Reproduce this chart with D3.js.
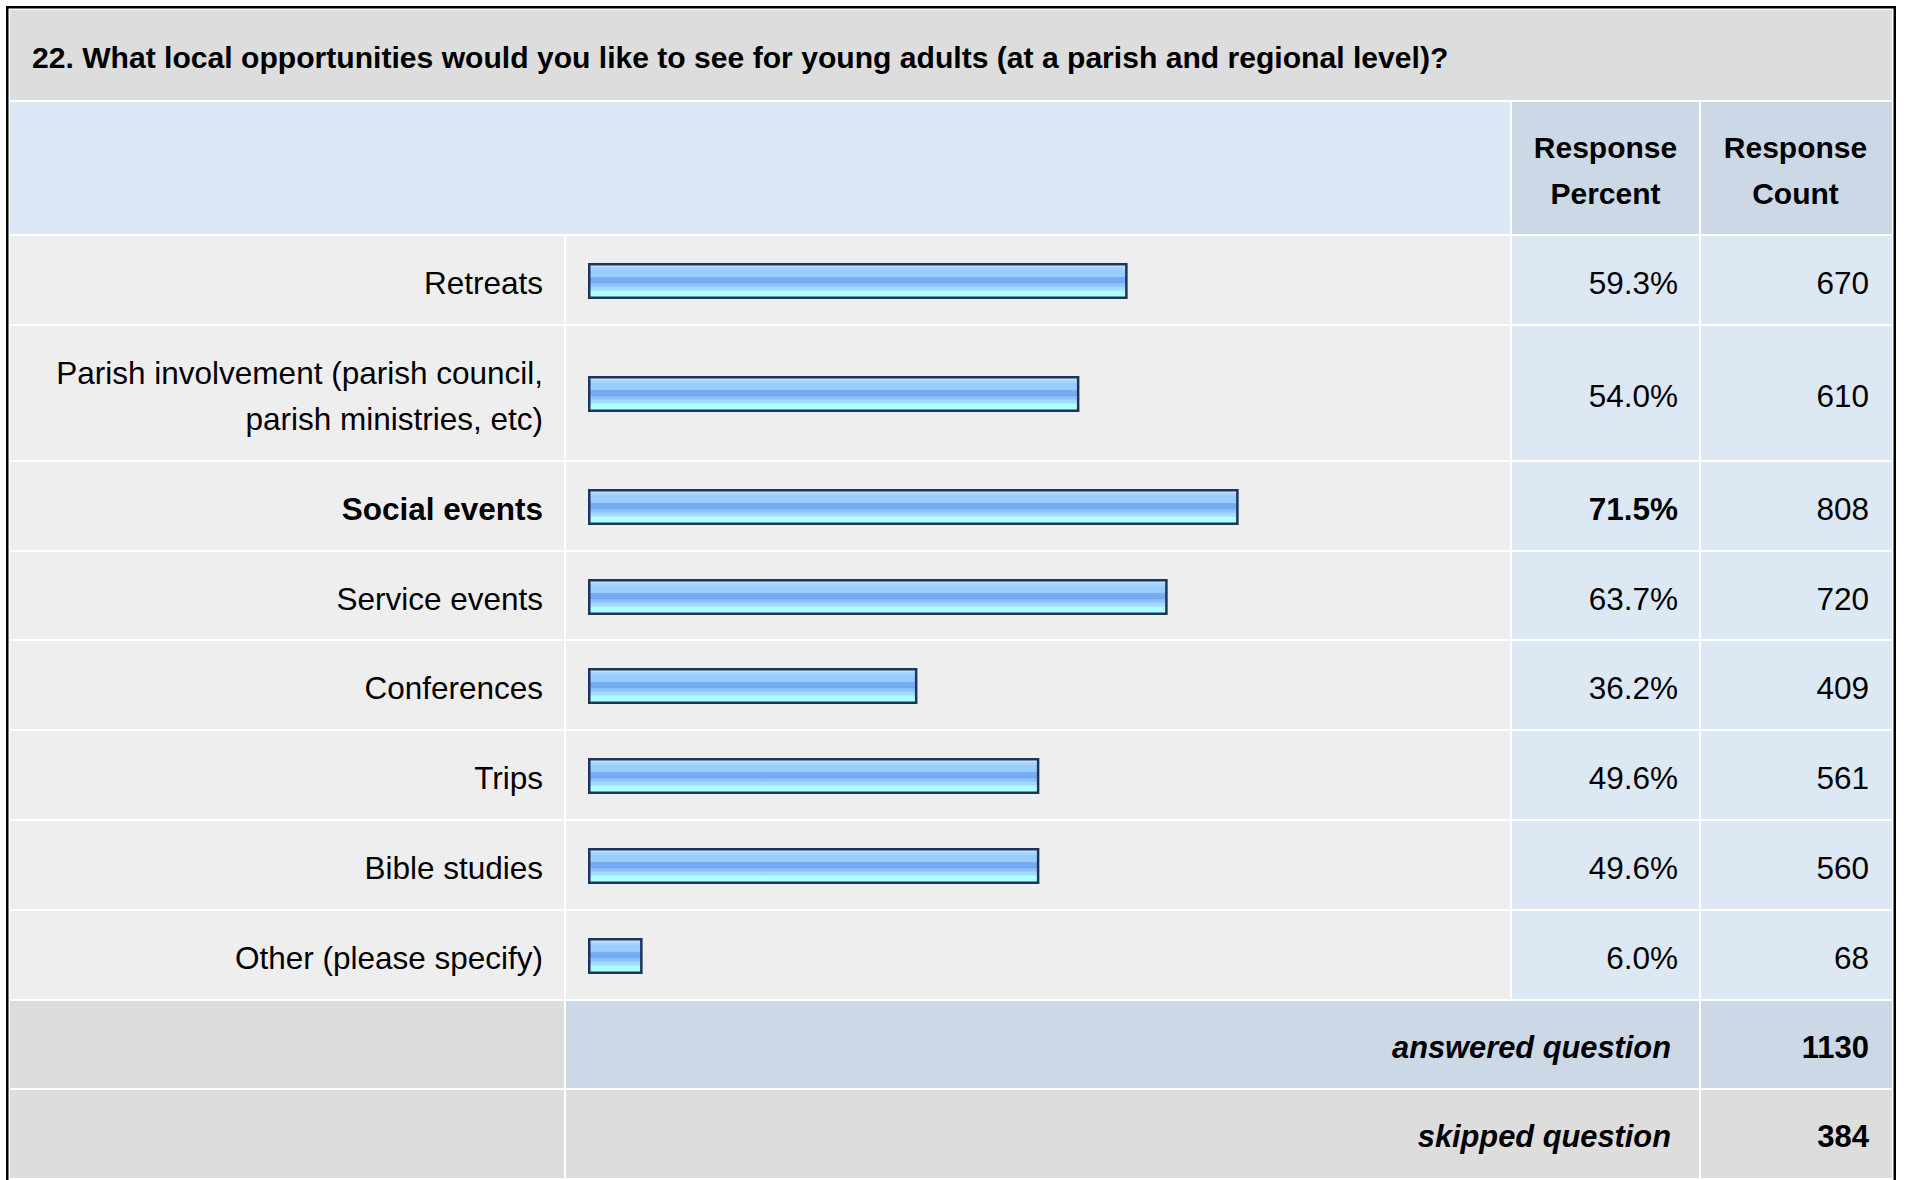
<!DOCTYPE html>
<html>
<head>
<meta charset="utf-8">
<script src="https://cdn.jsdelivr.net/npm/d3@7"></script>
<style>
html,body{margin:0;padding:0;background:#ffffff;}
svg{display:block;}
text{font-family:"Liberation Sans",Arial,Helvetica,sans-serif;fill:#000;}
</style>
</head>
<body>
<svg id="chart" width="1907" height="1180"></svg>
<script>
// ---- data ----
const title = "22. What local opportunities would you like to see for young adults (at a parish and regional level)?";
const headers = ["Response Percent", "Response Count"];
const categories = [
  "Retreats",
  "Parish involvement (parish council, parish ministries, etc)",
  "Social events",
  "Service events",
  "Conferences",
  "Trips",
  "Bible studies",
  "Other (please specify)"
];
const percentValues = [59.3, 54.0, 71.5, 63.7, 36.2, 49.6, 49.6, 6.0];
const countValues = [670, 610, 808, 720, 409, 561, 560, 68];
const summaryLabels = ["answered question", "skipped question"];
const summaryValues = [1130, 384];

// ---- layout ----
const svg = d3.select("#chart");
const W = 1907, H = 1180;
const FONT = 31.5;
const colX = [10, 566, 1512, 1701, 1892]; // label | bar | percent | count | end
const C = {
  title: "#dddddd", head: "#dce8f5", headDark: "#ccd8e6",
  cell: "#eeeeee", num: "#dde8f5", sumDark: "#ccd8e6", sumGray: "#dddddd"
};

svg.append("rect").attr("width", W).attr("height", H).attr("fill", "#fff");

const defs = svg.append("defs");
const grad = defs.append("linearGradient").attr("id", "barGrad")
  .attr("x1", 0).attr("y1", 0).attr("x2", 0).attr("y2", 1);
[[0,"#cce8ff"],[0.07,"#c0e2ff"],[0.08,"#aad6ff"],[0.16,"#a4d2ff"],[0.17,"#99ccff"],[0.37,"#99ccff"],
 [0.38,"#78adf5"],[0.55,"#72a9f3"],[0.56,"#88bcf9"],[0.66,"#90c4fb"],[0.67,"#a2d6ff"],[0.78,"#a6dcff"],
 [0.79,"#b0ffff"],[1,"#b0ffff"]].forEach(s => grad.append("stop").attr("offset", s[0]).attr("stop-color", s[1]));

function cell(x0, x1, y0, y1, fill) {
  svg.append("rect").attr("x", x0).attr("y", y0).attr("width", x1 - x0).attr("height", y1 - y0).attr("fill", fill);
}

// title band
cell(10, 1892, 10, 100, C.title);
svg.append("text").attr("x", 32).attr("y", 68).attr("font-size", 30.1).attr("font-weight", "bold").text(title);

// header band
cell(10, 1510, 102, 234, C.head);
cell(colX[2], colX[3] - 2, 102, 234, C.headDark);
cell(colX[3], colX[4], 102, 234, C.headDark);
headers.forEach((h, i) => {
  const cx = (colX[2 + i] + colX[3 + i] - 2) / 2;
  const words = h.split(" ");
  const t = svg.append("text").attr("text-anchor", "middle").attr("font-size", 30).attr("font-weight", "bold");
  words.forEach((w, j) => t.append("tspan").attr("x", cx).attr("y", 168 + 13 - 23 + j * 46).text(w));
});

// wrap labels by measurement
const maxLabelW = 515;
const measure = svg.append("text").attr("font-size", FONT).attr("visibility", "hidden");
function wrap(str, bold) {
  measure.attr("font-weight", bold ? "bold" : "normal");
  const words = str.split(" ");
  const lines = []; let cur = "";
  words.forEach(w => {
    const test = cur ? cur + " " + w : w;
    measure.text(test);
    if (measure.node().getComputedTextLength() > maxLabelW && cur) { lines.push(cur); cur = w; }
    else cur = test;
  });
  lines.push(cur);
  return lines;
}
const maxVal = d3.max(percentValues);
const rows = categories.map((c, i) => {
  const bold = percentValues[i] === maxVal;
  return { label: c, lines: wrap(c, bold), pct: percentValues[i], count: countValues[i], bold };
});
measure.remove();

// row boundaries
let y = 235;
rows.forEach(r => { r.y0 = y; r.y1 = y + (r.lines.length === 1 ? 89.8 : 136); y = r.y1; });

const x = d3.scaleLinear().domain([0, 100]).range([588, 1498]);
const fmtPct = d => d3.format(".1f")(d) + "%";

rows.forEach(r => {
  const a = Math.round(r.y0) + 1, b = Math.round(r.y1) - 1;
  const cy = (r.y0 + r.y1) / 2;
  cell(colX[0], colX[1] - 2, a, b, C.cell);
  cell(colX[1], colX[2] - 2, a, b, C.cell);
  cell(colX[2], colX[3] - 2, a, b, C.num);
  cell(colX[3], colX[4], a, b, C.num);
  const n = r.lines.length;
  const t = svg.append("text").attr("text-anchor", "end").attr("font-size", FONT)
    .attr("font-weight", r.bold ? "bold" : "normal");
  r.lines.forEach((ln, j) => t.append("tspan").attr("x", 543)
    .attr("y", cy + 3 + 11 + (j - (n - 1) / 2) * 46).text(ln));
  // bar
  const by = Math.round(cy) - 17;
  svg.append("rect").attr("x", x(0) + 1.25).attr("y", by + 1.25)
    .attr("width", x(r.pct) - x(0) - 2.5).attr("height", 36 - 2.5)
    .attr("fill", "url(#barGrad)").attr("stroke", "#1b365a").attr("stroke-width", 2.5);
  svg.append("text").attr("x", 1678).attr("y", cy + 14).attr("text-anchor", "end")
    .attr("font-size", FONT).attr("font-weight", r.bold ? "bold" : "normal").text(fmtPct(r.pct));
  svg.append("text").attr("x", 1869).attr("y", cy + 14).attr("text-anchor", "end")
    .attr("font-size", FONT).text(r.count);
});

// summary rows
summaryLabels.forEach((lab, i) => {
  const y0 = y + i * 89.8, y1 = y0 + 89.8;
  const a = Math.round(y0) + 1, b = Math.round(y1) - 1;
  const cy = (y0 + y1) / 2;
  const dark = i === 0 ? C.sumDark : C.sumGray;
  cell(colX[0], colX[1] - 2, a, b, C.sumGray);
  cell(colX[1], colX[3] - 2, a, b, dark);
  cell(colX[3], colX[4], a, b, dark);
  svg.append("text").attr("x", 1671).attr("y", cy + 13).attr("text-anchor", "end")
    .attr("font-size", 30.8).attr("font-weight", "bold").attr("font-style", "italic").text(lab);
  svg.append("text").attr("x", 1869).attr("y", cy + 13).attr("text-anchor", "end")
    .attr("font-size", 31).attr("font-weight", "bold").text(summaryValues[i]);
});

// outer frame
svg.append("rect").attr("x", 7.25).attr("y", 7.25).attr("width", 1887.5).attr("height", 1180)
  .attr("fill", "none").attr("stroke", "#000").attr("stroke-width", 2.5);
</script>
</body>
</html>
